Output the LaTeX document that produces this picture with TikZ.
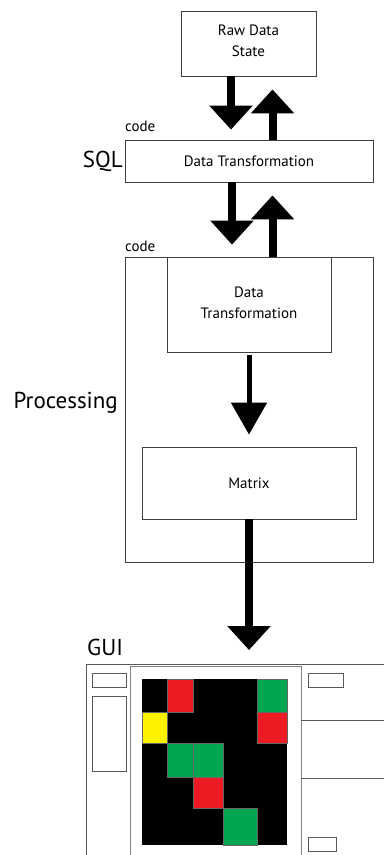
\documentclass[tikz,border=0pt]{standalone}
\usepackage{fontspec}
\setmainfont{PT Sans}
\usetikzlibrary{arrows.meta}
\definecolor{mred}{HTML}{ED1C24}
\definecolor{mgreen}{HTML}{00A651}
\definecolor{myellow}{HTML}{FFF200}
\tikzset{
  box/.style={draw=black!75, line width=0.8pt, rectangle, inner sep=0pt, align=center, font=\fontsize{15}{21}\selectfont},
  biglabel/.style={font=\fontsize{23}{26}\selectfont, inner sep=0pt},
  codelabel/.style={font=\fontsize{15}{17}\selectfont, inner sep=0pt, anchor=west},
  bigarrow/.style={line width=8pt, -{Triangle[width=42pt,length=24pt]}},
  smallarrow/.style={line width=5pt, -{Triangle[width=35pt,length=32pt]}},
  guiline/.style={draw=black!65, line width=0.8pt},
  cell/.style={draw=black!60, line width=0.6pt},
}
\begin{document}
\begin{tikzpicture}[x=1pt,y=-1pt]
\useasboundingbox (0,0) rectangle (384,855);
% boxes
\node[box, minimum width=135pt, minimum height=65pt] (raw) at (248.5,43.5) {};
\node[align=center, font=\fontsize{15}{21}\selectfont, inner sep=0pt] (rawt) at (248.5,40.5) {Raw Data\\State};
\node[box, minimum width=248pt, minimum height=42pt] (sql) at (249,161) {Data Transformation};
\node[box, minimum width=248pt, minimum height=305pt] (proc) at (249,409.5) {};
\node[box, minimum width=164pt, minimum height=95pt] (dt) at (249,304.5) {};
\node[align=center, font=\fontsize{15}{21}\selectfont, inner sep=0pt] (dtt) at (249,302.5) {Data\\Transformation};
\node[box, minimum width=214pt, minimum height=72pt] (mat) at (249,483) {Matrix};
% labels
\node[biglabel, anchor=east] (sqll) at (123,161) {SQL};
\node[biglabel, anchor=east] (procl) at (118,403) {Processing};
\node[biglabel, anchor=west] (guil) at (87,647) {GUI};
\node[codelabel] (code1) at (125,126) {code};
\node[codelabel] (code2) at (125,246) {code};
% gui frame
\coordinate (guitop) at (249,664);
\draw[guiline] (86,855) -- (86,664) -- (384,664);
\draw[draw=black!50, line width=0.6pt] (130,855) -- (130,666.5) -- (301,666.5) -- (301,855);
\draw[guiline] (301,720) -- (384,720);
\draw[guiline] (301,778) -- (384,778);
\draw[guiline] (92,673) rectangle (126,687);
\draw[guiline] (92,696) rectangle (126,771);
\draw[guiline] (308,673) rectangle (343,687);
\draw[guiline] (308,837) rectangle (336,851);
% matrix grid
\fill[black] (142,679) rectangle (287,845);
\draw[cell, fill=mred] (167,679) rectangle (193,712);
\draw[cell, fill=mgreen] (257,679) rectangle (287,712);
\draw[cell, fill=myellow] (142,712) rectangle (167,743);
\draw[cell, fill=mred] (257,712) rectangle (287,743);
\draw[cell, fill=mgreen] (167,743) rectangle (193,777);
\draw[cell, fill=mgreen] (193,743) rectangle (223,777);
\draw[cell, fill=mred] (193,777) rectangle (223,808);
\draw[cell, fill=mgreen] (223,808) rectangle (257,845);
% arrows
\draw[bigarrow, shorten >=10pt] ([xshift=-17.5pt]raw.south) -- ([xshift=-17.5pt]raw.south |- sql.north);
\draw[bigarrow, shorten >=13pt] ([xshift=23.5pt]sql.north) -- ([xshift=23.5pt]sql.north |- raw.south);
\draw[bigarrow, shorten >=12pt] ([xshift=-17pt]sql.south) -- ([xshift=-17pt]sql.south |- proc.north);
\draw[bigarrow, shorten >=13pt] ([xshift=23.5pt]proc.north) -- ([xshift=23.5pt]proc.north |- sql.south);
\draw[smallarrow, shorten <=3pt, shorten >=12pt] (dt.south) -- (mat.north);
\draw[bigarrow, shorten >=14pt] (mat.south) -- (guitop);
\end{tikzpicture}
\end{document}
